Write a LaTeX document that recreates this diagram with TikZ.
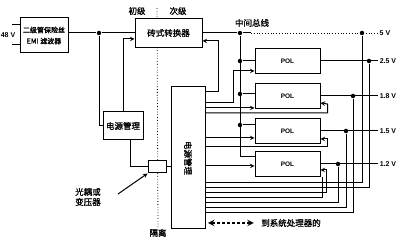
\documentclass[tikz,border=0pt]{standalone}
\usepackage{fontspec}
\newfontfamily\cjk{Noto Sans CJK SC}[FakeBold=1.2]
\newfontfamily\latn{Liberation Sans}
\usetikzlibrary{arrows.meta}
\tikzset{every picture/.style={line width=1pt}}
\tikzset{
  blk/.style={draw, fill=white, inner sep=1pt},
  lbl/.style={font=\cjk\fontsize{8.5}{10}\selectfont, inner sep=1pt},
  pol/.style={blk, minimum width=65pt, minimum height=25pt, font=\latn\bfseries\fontsize{6.5}{7}\selectfont},
  volt/.style={font=\latn\bfseries\fontsize{7}{8}\selectfont, inner sep=1pt},
  dot/.style={circle, fill, inner sep=0pt, minimum size=4.5pt},
}

\begin{document}
\begin{tikzpicture}[x=1pt, y=-1pt, >=stealth]
        \useasboundingbox (0,0) rectangle (400,243);
        % isolation barrier
        \coordinate (isotop) at (157,8);
        \node[lbl] (iso) at (158,233) {隔离};
        \draw[dotted, thick] (isotop) -- (iso.north);
        \node[lbl] (prim) at (137,11) {初级};
        \node[lbl] (sec) at (178,11) {次级};
        % input and EMI filter
        \node[volt] (vin) at (8,35) {48 V};
        \node[blk, minimum width=48pt, minimum height=35pt, align=center, font=\cjk\fontsize{7}{11}\selectfont] (emi) at (44,35.5) {二级管保险丝\\EMI 滤波器};
        \coordinate (inA) at (12,25);
        \coordinate (inB) at (12,45);
        \draw (inA) -- (inA -| emi.west);
        \draw (inB) -- (inB -| emi.west);
        % brick converter and primary side power management
        \node[blk, lbl, minimum width=67pt, minimum height=29pt] (conv) at (168.5,33) {砖式转换器};
        \node[dot] (j1) at (99,33) {};
        \draw (emi.east |- j1) -- (j1) -- (conv.west);
        \node[blk, lbl, minimum width=40pt, minimum height=28pt] (pmp) at (123,126) {电源管理};
        \draw (j1) |- (pmp.west);
        \draw[->] (pmp.north) |- ([yshift=-6pt]conv.west);
        % optocoupler / transformer
        \node[blk, minimum width=18pt, minimum height=12pt] (opto) at (157,167) {};
        \draw ([xshift=7pt]pmp.south) |- (opto.west);
        \node[blk, minimum width=34pt, minimum height=142pt] (pms) at (188,158) {};
        \node[lbl, rotate=-90] (pmstxt) at (pms.center) {电源管理};
        \draw (opto.east) -- (opto.east -| pms.west);
        \node[lbl, align=center] (optolbl) at (88,197) {光耦或\\变压器};
        \coordinate (optoarr) at (118,194);
        \draw[->] (optoarr) -- (opto.south west);
        % intermediate bus
        \node[dot] (b0) at (240,33) {};
        \node[dot] (b5) at (362,33) {};
        \node[volt] (v50) at (385,33) {5 V};
        \node[lbl] (busl) at (252,23) {中间总线};
        \coordinate (bd) at (251,33);
        \draw (conv.east) -- (b0) -- (bd);
        \draw[dotted, thick] (bd) -- (v50.west);
        % POL modules
        \node[pol] (pol1) at (287.5,61) {POL};
        \node[pol] (pol2) at (287.5,96) {POL};
        \node[pol] (pol3) at (287.5,131) {POL};
        \node[pol] (pol4) at (287.5,164) {POL};
        \node[dot] (b1) at (240,61) {};
        \node[dot] (b2) at (240,94) {};
        \node[dot] (b3) at (240,125) {};
        \coordinate (b4) at (240,157);
        \draw (b0) -- (b4) -- (b4 -| pol4.west);
        \draw (b1) -- (pol1.west);
        \draw (b2) -- (b2 -| pol2.west);
        \draw (b3) -- (b3 -| pol3.west);
        % outputs
        \node[volt] (v25) at (388,61) {2.5 V};
        \node[volt] (v18) at (388,96) {1.8 V};
        \node[volt] (v15) at (388,131) {1.5 V};
        \node[volt] (v12) at (388,164) {1.2 V};
        \node[dot] (o1) at (369,61) {};
        \node[dot] (o2) at (353,96) {};
        \node[dot] (o3) at (346,131) {};
        \node[dot] (o4) at (338,164) {};
        \draw (pol1.east) -- (v25.west);
        \draw (pol2.east) -- (v18.west);
        \draw (pol3.east) -- (v15.west);
        \draw (pol4.east) -- (v12.west);
        % control and sense lines of the secondary power management
        \draw[->] (pms.east |- 0,92) -| ++(13,-51) -- ([yshift=-8pt]conv.east);
        \draw[->] (pms.east |- 0,103) -| ++(28,-32) -- ([yshift=-10pt]pol1.west);
        \draw[->] (pms.east |- 0,108) -- (pol2.west |- 0,108);
        \draw[->] (pms.east |- 0,113) -| ++(122,-9) -- ([yshift=-7pt]pol2.east);
        \draw[->] (pms.east |- 0,138) -- (pol3.west |- 0,138);
        \draw[->] (pms.east |- 0,147) -| ++(122,-8) -- ([yshift=-8pt]pol3.east);
        \draw[->] (pms.east |- 0,166) -- (pol4.west |- 0,166);
        % return lines at the bottom
        \draw (b5) |- (pms.east |- 0,183);
        \draw (o1) |- (pms.east |- 0,188);
        \draw[->] (pms.east |- 0,193) -| ++(121,-23) -- ([yshift=-6pt]pol4.east);
        \draw (pms.east |- 0,198) -| ([xshift=2pt]pol4.south east);
        \draw (o4) |- (pms.east |- 0,203);
        \draw (o3) |- (pms.east |- 0,208);
        \draw (o2) |- (pms.east |- 0,213);
        % link to the system processor
        \node[lbl] (sys) at (291,223) {到系统处理器的};
        \coordinate (sysl) at (208,223);
        \draw[<->, line width=1.8pt, dash pattern=on 3pt off 2pt] (sysl) -- ([xshift=-6pt]sys.west);
    \end{tikzpicture}
\end{document}
